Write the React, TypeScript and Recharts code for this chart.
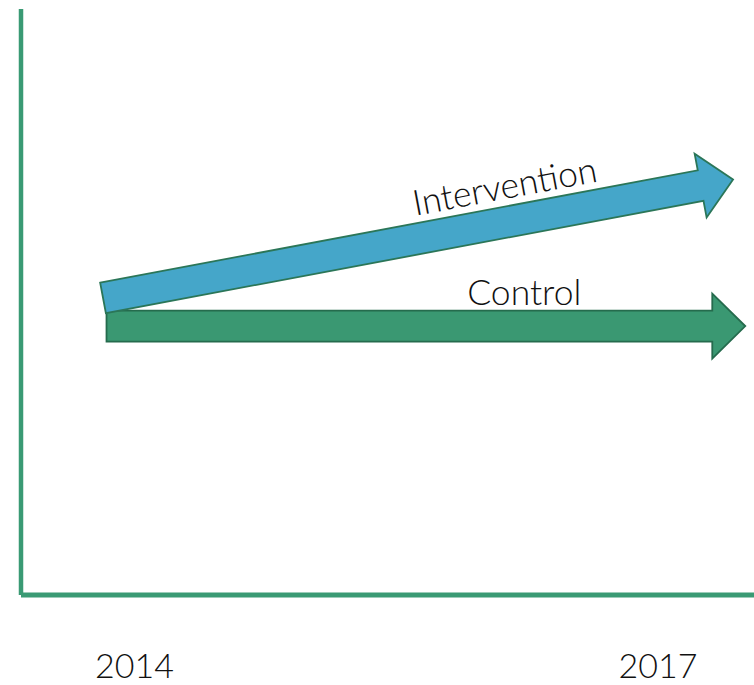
import { ScatterChart, Scatter, XAxis, YAxis } from 'recharts';

// years shown on the x axis
const yearTicks = [2014, 2017];
const xDomain = [2013.35, 2017.55];
const yDomain = [0, 100];

// arrow start / end points (year, outcome level)
const controlX = [2013.84, 2017.5];
const controlY = [45.9, 45.9];
const interventionX = [2013.82, 2017.43];
const interventionY = [50.7, 70.9];

const GREEN = '#3a9a74';
const SHAFT = 31;
const HEAD_W = 65;
const HEAD_LEN = 33;
const FONT = 'Lato, sans-serif';

const toPoints = (xs: number[], ys: number[]) => xs.map((x, i) => ({ x, y: ys[i] }));

function Arrow({ points, fill, stroke, label, at, offset }: any) {
    if (!points || points.length < 2) return null;
    const a = points[0];
    const b = points[points.length - 1];
    const dx = b.x - a.x, dy = b.y - a.y;
    const len = Math.hypot(dx, dy);
    const ux = dx / len, uy = dy / len;
    const nx = uy, ny = -ux; // normal pointing up
    const bx = b.x - ux * HEAD_LEN, by = b.y - uy * HEAD_LEN;
    const hw = SHAFT / 2, hh = HEAD_W / 2;
    const poly = [
        [a.x + nx * hw, a.y + ny * hw],
        [bx + nx * hw, by + ny * hw],
        [bx + nx * hh, by + ny * hh],
        [b.x, b.y],
        [bx - nx * hh, by - ny * hh],
        [bx - nx * hw, by - ny * hw],
        [a.x - nx * hw, a.y - ny * hw],
    ].map(p => p.join(',')).join(' ');
    const tx = a.x + dx * at + nx * offset;
    const ty = a.y + dy * at + ny * offset;
    const angle = Math.atan2(dy, dx) * 180 / Math.PI;
    return (
        <g>
            <polygon points={poly} fill={fill} stroke={stroke} strokeWidth={1.8} strokeLinejoin="miter" />
            <text x={tx} y={ty} transform={`rotate(${angle} ${tx} ${ty})`} textAnchor="middle"
                fontFamily={FONT} fontWeight={300} fontSize={35.5} fill="#111">{label}</text>
        </g>
    );
}

const YearTick = ({ x, y, payload }: any) => (
    <text x={x} y={y + 83} textAnchor="middle" fontFamily={FONT} fontWeight={300} fontSize={34} fill="#111">
        {payload.value}
    </text>
);

export default function App() {
    return (
        <div style={{ position: 'absolute', left: 0, top: 0, width: 754, height: 685, background: '#fff' }}>
            <ScatterChart width={754} height={685} margin={{ top: 9, right: 0, bottom: 0, left: 0 }}>
                <XAxis type="number" dataKey="x" domain={xDomain} ticks={yearTicks} allowDataOverflow
                    height={90} tickLine={false} tickSize={0} tickMargin={0} tick={<YearTick />}
                    axisLine={{ stroke: GREEN, strokeWidth: 5 }} />
                <YAxis type="number" dataKey="y" domain={yDomain} width={21} tick={false} tickLine={false}
                    axisLine={{ stroke: GREEN, strokeWidth: 4.5 }} />
                <Scatter data={toPoints(controlX, controlY)} isAnimationActive={false} lineType="joint"
                    shape={() => <g />}
                    line={(p: any) => <Arrow points={p.points} fill="#3a9872" stroke="#256b4d" label="Control" at={0.654} offset={21} />} />
                <Scatter data={toPoints(interventionX, interventionY)} isAnimationActive={false} lineType="joint"
                    shape={() => <g />}
                    line={(p: any) => <Arrow points={p.points} fill="#45a6c9" stroke="#2b7658" label="Intervention" at={0.648} offset={23} />} />
            </ScatterChart>
        </div>
    );
}
